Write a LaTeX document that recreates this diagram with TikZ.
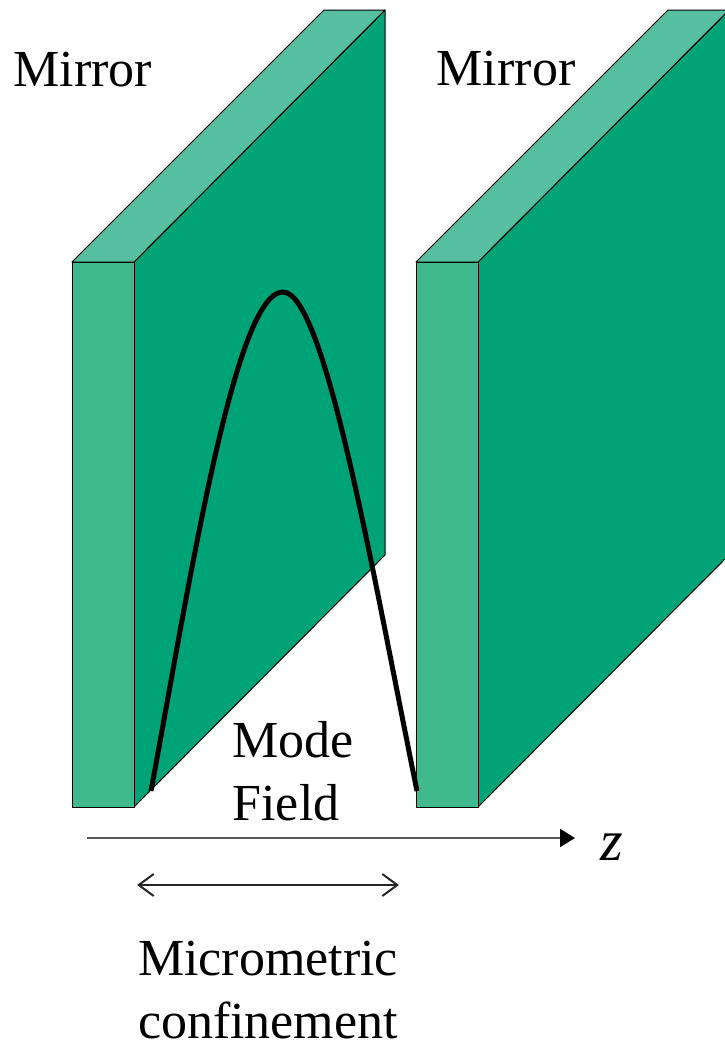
\documentclass[tikz,border=0pt]{standalone}
\usepackage{fontspec}
\setmainfont{Liberation Serif}
\usetikzlibrary{arrows.meta}
\definecolor{front}{HTML}{41B98F}
\definecolor{topc}{HTML}{55BFA0}
\definecolor{side}{HTML}{00A376}
\begin{document}
\begin{tikzpicture}[x=1pt,y=-1pt,
  face/.style={draw=black,line width=1pt,line join=round},
  lbl/.style={inner sep=0pt,font=\fontsize{52}{56}\selectfont,align=center},
  arr/.style={line width=2pt,draw=black!65}]
\useasboundingbox (0,0) rectangle (724,1042);
% left mirror
\fill[side] (134,262) -- (385,10) -- (385,555) -- (134,807) -- cycle;
\draw[face] (134,262) -- (385,10) -- (385,555) -- (134,807) -- cycle;
\draw[face,fill=topc] (72,262) -- (324,10) -- (385,10) -- (134,262) -- cycle;
\draw[face,fill=front] (72,262) rectangle (134,807);
% right mirror
\fill[side] (478,262) -- (729,10) -- (729,555) -- (478,807) -- cycle;
\draw[face] (478,262) -- (729,10) -- (729,555) -- (478,807) -- cycle;
\draw[face,fill=topc] (416,262) -- (668,10) -- (729,10) -- (478,262) -- cycle;
\draw[face,fill=front] (416,262) rectangle (478,807);
% mode field
\coordinate (fa) at (151,791);
\coordinate (fb) at (283,292);
\coordinate (fc) at (417,791);
\draw[line width=5pt,line join=round] (fa)
  .. controls (190,580) and (235,292) .. (fb)
  .. controls (325,292) and (373,575) .. (fc);
% axis
\coordinate (za) at (87,838);
\coordinate (zb) at (575,838);
\draw[arr,-{Triangle[length=15pt,width=18pt,black]}] (za) -- (zb);
\coordinate (da) at (137,885);
\coordinate (db) at (399,885);
\draw[arr,draw=black!85,{Straight Barb[length=15pt,width=22pt,line width=2pt]}-{Straight Barb[length=15pt,width=22pt,line width=2pt]}] (da) -- (db);
% labels
\node[lbl,anchor=base] (m1) at (83,86) {Mirror};
\node[lbl,anchor=base] (m2) at (506,85) {Mirror};
\node[lbl,anchor=base] (mf1) at (293,757) {Mode};
\node[lbl,anchor=base] (mf2) at (286,820) {Field};
\node[lbl,anchor=base] (z) at (612,860) {\itshape\fontsize{58}{58}\selectfont z};
\node[lbl,anchor=base] (c1) at (268,975) {Micrometric};
\node[lbl,anchor=base] (c2) at (268,1038) {confinement};
\end{tikzpicture}
\end{document}
